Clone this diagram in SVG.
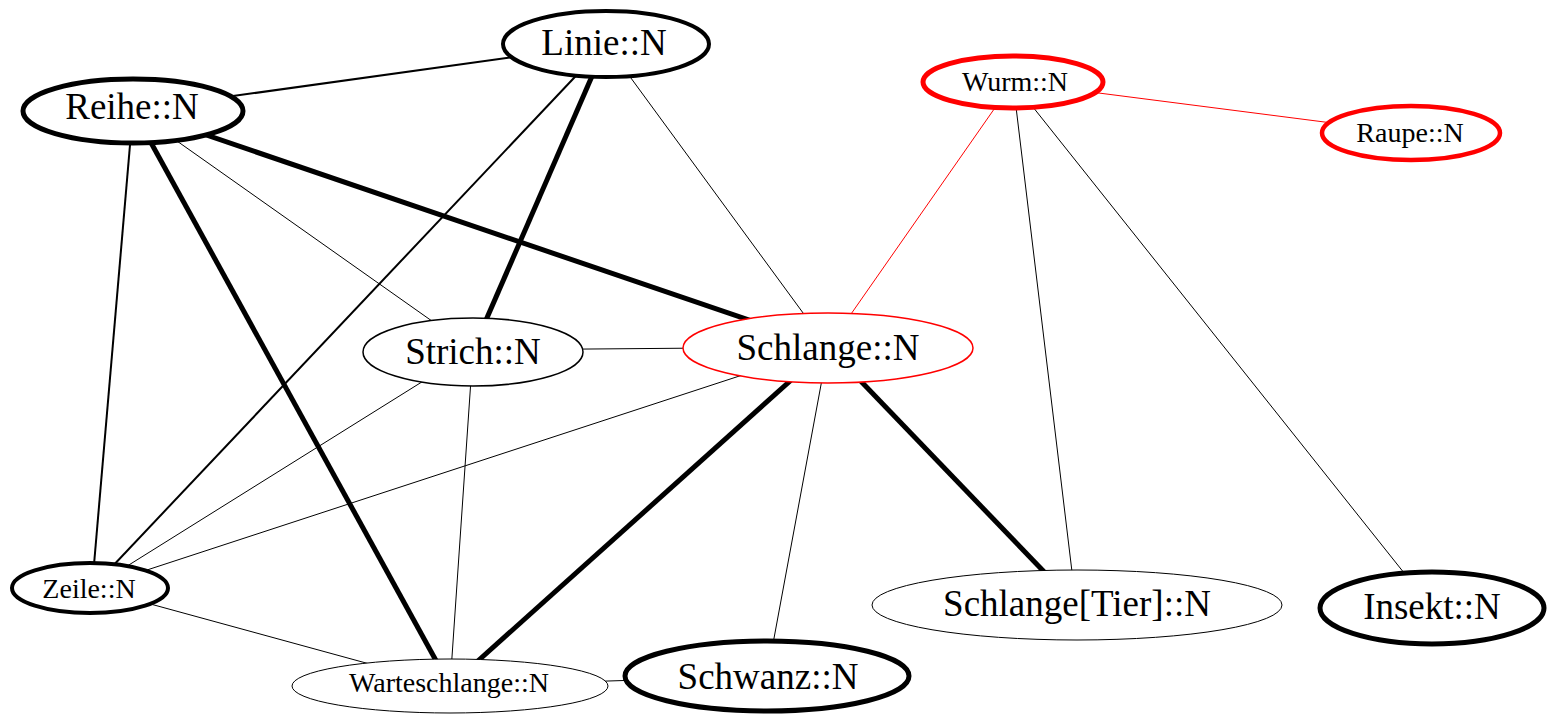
<svg xmlns="http://www.w3.org/2000/svg" width="1547" height="714" viewBox="0 0 1547 714">
  <style>
    .bg { fill: #ffffff; }
    .edge { stroke: #000000; fill: none; stroke-linecap: butt; }
    .thin { stroke-width: 1; }
    .mid { stroke-width: 2; }
    .thick { stroke-width: 5; }
    .red { stroke: #ff0000; }
    .node ellipse { fill: #ffffff; stroke: #000000; }
    .node.hi ellipse { stroke: #ff0000; }
    .node text { font-family: "Liberation Serif", "Times New Roman", serif; fill: #000000; text-anchor: middle; }
    .big { font-size: 37px; }
    .small { font-size: 28px; }
  </style>
  <rect class="bg" x="0" y="0" width="1547" height="714"/>

  <!-- connectors: drawn centre to centre, node fills hide the inner part -->
  <g id="edges">
    <line class="edge mid" x1="133" y1="110" x2="606" y2="44"/>
    <line class="edge thin" x1="133" y1="110" x2="473" y2="350"/>
    <line class="edge thick" x1="133" y1="110" x2="828" y2="347"/>
    <line class="edge thick" x1="133" y1="110" x2="450" y2="686"/>
    <line class="edge mid" x1="133" y1="110" x2="92" y2="588"/>
    <line class="edge thick" x1="606" y1="44" x2="473" y2="350"/>
    <line class="edge mid" x1="606" y1="44" x2="92" y2="588"/>
    <line class="edge thin" x1="606" y1="44" x2="828" y2="347"/>
    <line class="edge thin" x1="473" y1="350" x2="828" y2="347"/>
    <line class="edge thin" x1="473" y1="350" x2="92" y2="588"/>
    <line class="edge thin" x1="473" y1="350" x2="450" y2="686"/>
    <line class="edge thin" x1="828" y1="347" x2="92" y2="588"/>
    <line class="edge thick" x1="828" y1="347" x2="450" y2="686"/>
    <line class="edge thin" x1="828" y1="347" x2="767" y2="676"/>
    <line class="edge thick" x1="828" y1="347" x2="1076" y2="605"/>
    <line class="edge thin red" x1="828" y1="347" x2="1013" y2="82"/>
    <line class="edge thin red" x1="1013" y1="82" x2="1410" y2="133"/>
    <line class="edge thin" x1="1013" y1="82" x2="1076" y2="605"/>
    <line class="edge thin" x1="1013" y1="82" x2="1432" y2="608"/>
    <line class="edge thin" x1="92" y1="588" x2="450" y2="686"/>
    <line class="edge thin" x1="450" y1="686" x2="767" y2="676" stroke="#555555"/>
  </g>

  <g id="node-linie" class="node">
    <ellipse cx="606" cy="44" rx="103" ry="33" stroke-width="4"/>
    <text class="big" x="604" y="55">Linie::N</text>
  </g>
  <g id="node-reihe" class="node">
    <ellipse cx="133" cy="111" rx="110" ry="32" stroke-width="5"/>
    <text class="big" x="132" y="119">Reihe::N</text>
  </g>
  <g id="node-wurm" class="node hi">
    <ellipse cx="1013" cy="82" rx="90" ry="26" stroke-width="5"/>
    <text class="small" x="1015" y="91">Wurm::N</text>
  </g>
  <g id="node-raupe" class="node hi">
    <ellipse cx="1411" cy="133" rx="89" ry="27" stroke-width="4.5"/>
    <text class="small" x="1410" y="142">Raupe::N</text>
  </g>
  <g id="node-strich" class="node">
    <ellipse cx="473" cy="352" rx="110" ry="34" stroke-width="1.5"/>
    <text class="big" x="473" y="364">Strich::N</text>
  </g>
  <g id="node-schlange" class="node hi">
    <ellipse cx="828" cy="348" rx="145" ry="35" stroke-width="1.5"/>
    <text class="big" x="828" y="360">Schlange::N</text>
  </g>
  <g id="node-zeile" class="node">
    <ellipse cx="90" cy="588" rx="78" ry="25" stroke-width="4"/>
    <text class="small" x="89" y="598">Zeile::N</text>
  </g>
  <g id="node-warteschlange" class="node">
    <ellipse cx="450" cy="686" rx="158" ry="27" stroke-width="1"/>
    <text class="small" x="449" y="692">Warteschlange::N</text>
  </g>
  <g id="node-schwanz" class="node">
    <ellipse cx="767" cy="676" rx="142" ry="35" stroke-width="5"/>
    <text class="big" x="768" y="689">Schwanz::N</text>
  </g>
  <g id="node-schlange-tier" class="node">
    <ellipse cx="1077" cy="605" rx="205" ry="35" stroke-width="1"/>
    <text class="big" x="1077" y="616">Schlange[Tier]::N</text>
  </g>
  <g id="node-insekt" class="node">
    <ellipse cx="1432" cy="608" rx="112" ry="36" stroke-width="5"/>
    <text class="big" x="1432" y="619">Insekt::N</text>
  </g>
</svg>
